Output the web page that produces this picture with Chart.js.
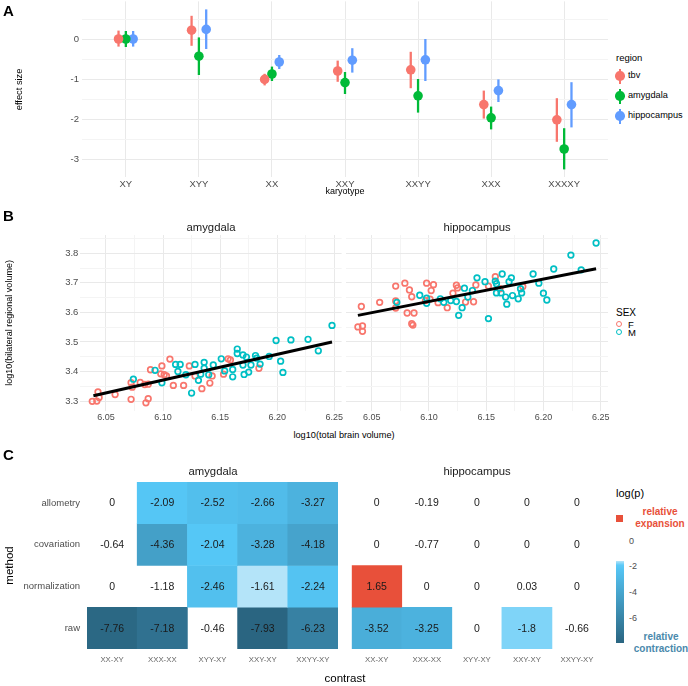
<!DOCTYPE html>
<html><head><meta charset="utf-8">
<script src="https://cdn.jsdelivr.net/npm/chart.js@4.4.1/dist/chart.umd.min.js"></script>
<style>
html,body{margin:0;padding:0;background:#fff;}
#root{position:relative;width:688px;height:686px;overflow:hidden;background:#fff;font-family:"Liberation Sans",Arial,sans-serif;}
.abs{position:absolute;white-space:nowrap;line-height:1;}
canvas{position:absolute;}
</style></head>
<body><div id="root"></div>
<script>
// ---------------- DATA ----------------
// Panel A
const karyotypes = ['XY','XYY','XX','XXY','XXYY','XXX','XXXXY'];
const regions = ['tbv','amygdala','hippocampus'];
const tbvEst   = [0, 0.22, -1.01, -0.80, -0.77, -1.64, -2.02];
const tbvLo    = [-0.19, -0.17, -1.16, -1.07, -1.23, -1.99, -2.57];
const tbvHi    = [0.21, 0.58, -0.87, -0.54, -0.32, -1.29, -1.48];
const amygEst  = [0, -0.43, -0.875, -1.09, -1.42, -1.97, -2.75];
const amygLo   = [-0.2, -0.9, -1.05, -1.375, -1.84, -2.26, -3.26];
const amygHi   = [0.2, 0.04, -0.69, -0.825, -1.0, -1.69, -2.23];
const hippoEst = [0, 0.24, -0.575, -0.53, -0.52, -1.29, -1.64];
const hippoLo  = [-0.19, -0.25, -0.75, -0.84, -1.05, -1.575, -2.21];
const hippoHi  = [0.2, 0.74, -0.4, -0.23, 0.0, -1.01, -1.08];
const effectTicks = [-3, -2.5, -2, -1.5, -1, -0.5, 0, 0.5];

// Panel B
const amygF = [[6.038,3.299],[6.042,3.300],[6.043,3.331],[6.044,3.312],[6.058,3.322],[6.072,3.306],[6.072,3.362],[6.073,3.347],[6.080,3.363],[6.085,3.294],[6.087,3.308],[6.087,3.357],[6.089,3.406],[6.084,3.356],[6.098,3.392],[6.099,3.419],[6.101,3.389],[6.103,3.385],[6.106,3.442],[6.109,3.353],[6.118,3.353],[6.123,3.419],[6.128,3.385],[6.134,3.342],[6.141,3.361],[6.143,3.385],[6.153,3.391],[6.157,3.443],[6.159,3.439],[6.184,3.411]];
const amygM = [[6.074,3.374],[6.093,3.404],[6.099,3.362],[6.111,3.424],[6.113,3.400],[6.115,3.424],[6.120,3.389],[6.125,3.327],[6.128,3.424],[6.133,3.391],[6.131,3.370],[6.136,3.431],[6.136,3.411],[6.140,3.389],[6.144,3.422],[6.151,3.443],[6.154,3.402],[6.161,3.407],[6.161,3.382],[6.165,3.476],[6.165,3.461],[6.170,3.422],[6.170,3.456],[6.171,3.390],[6.173,3.449],[6.175,3.398],[6.177,3.422],[6.181,3.454],[6.182,3.445],[6.185,3.425],[6.193,3.451],[6.199,3.505],[6.203,3.435],[6.205,3.397],[6.212,3.507],[6.227,3.509],[6.236,3.470],[6.248,3.556]];
const hippoF = [[6.038,3.551],[6.042,3.554],[6.042,3.536],[6.041,3.620],[6.057,3.634],[6.071,3.689],[6.071,3.639],[6.071,3.615],[6.079,3.699],[6.083,3.676],[6.085,3.653],[6.081,3.598],[6.087,3.598],[6.085,3.562],[6.086,3.557],[6.098,3.699],[6.102,3.674],[6.104,3.694],[6.097,3.640],[6.101,3.645],[6.108,3.633],[6.116,3.616],[6.121,3.665],[6.124,3.692],[6.125,3.683],[6.132,3.635],[6.139,3.636],[6.141,3.693],[6.152,3.689],[6.158,3.721],[6.162,3.680],[6.182,3.688]];
const hippoM = [[6.072,3.634],[6.092,3.658],[6.098,3.648],[6.098,3.631],[6.110,3.646],[6.113,3.634],[6.119,3.640],[6.124,3.637],[6.126,3.590],[6.129,3.616],[6.131,3.682],[6.134,3.652],[6.138,3.674],[6.142,3.717],[6.149,3.704],[6.152,3.579],[6.158,3.706],[6.159,3.697],[6.159,3.666],[6.163,3.666],[6.164,3.730],[6.167,3.652],[6.168,3.628],[6.170,3.704],[6.172,3.717],[6.173,3.657],[6.178,3.646],[6.180,3.680],[6.181,3.666],[6.191,3.730],[6.196,3.699],[6.200,3.665],[6.203,3.642],[6.209,3.747],[6.224,3.794],[6.233,3.744],[6.246,3.835]];
const amygFit  = [[6.039,3.318],[6.248,3.500]];
const hippoFit = [[6.038,3.590],[6.246,3.748]];
const tbvTicks = [6.05,6.075,6.10,6.125,6.15,6.175,6.20,6.225,6.25];
const volTicks = [3.3,3.35,3.4,3.45,3.5,3.55,3.6,3.65,3.7,3.75,3.8,3.85];

// Panel C
const contrasts = ['XX-XY','XXX-XX','XYY-XY','XXY-XY','XXYY-XY'];
const methods = ['allometry','covariation','normalization','raw'];
const amygAllometry     = [0, -2.09, -2.52, -2.66, -3.27];
const amygCovariation   = [-0.64, -4.36, -2.04, -3.28, -4.18];
const amygNormalization = [0, -1.18, -2.46, -1.61, -2.24];
const amygRaw           = [-7.76, -7.18, -0.46, -7.93, -6.23];
const hippoAllometry     = [0, -0.19, 0, 0, 0];
const hippoCovariation   = [0, -0.77, 0, 0, 0];
const hippoNormalization = [1.65, 0, 0, 0.03, 0];
const hippoRaw           = [-3.52, -3.25, 0, -1.8, -0.66];
const legendTicks = [-2, -4, -6];

// ---------------- STYLE ----------------
const FONT = '"Liberation Sans", Arial, sans-serif';
Chart.defaults.font.family = FONT;
const regionColors = ['#F8766D','#00BA38','#619CFF'];
const sexColors = ['#F8766D','#00BFC4'];
const GRID_MAJOR = '#e9e9e9', GRID_MINOR = '#f4f4f4';
const root = document.getElementById('root');

function txt(text, x, y, css, tr){
  const d = document.createElement('div');
  d.className = 'abs'; d.textContent = text;
  d.style.left = x + 'px'; d.style.top = y + 'px';
  Object.assign(d.style, css || {});
  d.style.transform = tr || 'translate(-50%,-50%)';
  root.appendChild(d); return d;
}
function box(x, y, w, h, css){
  const d = document.createElement('div');
  d.style.position = 'absolute';
  d.style.left = x + 'px'; d.style.top = y + 'px';
  d.style.width = w + 'px'; d.style.height = h + 'px';
  Object.assign(d.style, css || {});
  root.appendChild(d); return d;
}
function canvasAt(x, y, w, h){
  const c = document.createElement('canvas');
  c.width = w; c.height = h;
  c.style.left = x + 'px'; c.style.top = y + 'px';
  c.style.width = w + 'px'; c.style.height = h + 'px';
  root.appendChild(c); return c;
}
function fixSize(prop, val){
  return s => { s[prop] = val; s.paddingTop = 0; s.paddingBottom = 0; s.paddingLeft = 0; s.paddingRight = 0; };
}
const baseOpts = {responsive:false, animation:false, events:[], devicePixelRatio:1,
  plugins:{legend:{display:false}, tooltip:{enabled:false}}};
function pad(top, right, left){ return {autoPadding:false, padding:{top:top, right:right, left:left, bottom:0}}; }
function isMult(v, step){ return Math.abs(v/step - Math.round(v/step)) < 1e-6; }

// ---------------- PANEL A ----------------
const errorBars = {
  id:'errorBars',
  beforeDatasetsDraw(chart){
    const ctx = chart.ctx, ys = chart.scales.y;
    chart.data.datasets.forEach((ds, di) => {
      const meta = chart.getDatasetMeta(di);
      ctx.save(); ctx.strokeStyle = ds.borderColor; ctx.lineWidth = 2.3; ctx.lineCap = 'butt';
      meta.data.forEach((pt, i) => {
        ctx.beginPath();
        ctx.moveTo(pt.x, ys.getPixelForValue(ds.lo[i]));
        ctx.lineTo(pt.x, ys.getPixelForValue(ds.hi[i]));
        ctx.stroke();
      });
      ctx.restore();
    });
  }
};
const estA = [tbvEst, amygEst, hippoEst], loA = [tbvLo, amygLo, hippoLo], hiA = [tbvHi, amygHi, hippoHi];
const dodge = [-0.1, 0, 0.1];
new Chart(canvasAt(0, 0, 610, 200), {
  type:'scatter',
  data:{datasets: regions.map((r, k) => ({
    label:r,
    data: karyotypes.map((_, i) => ({x: i + dodge[k], y: estA[k][i]})),
    lo: loA[k], hi: hiA[k],
    backgroundColor: regionColors[k], borderColor: regionColors[k],
    pointRadius:4.8, borderWidth:0
  }))},
  options: Object.assign({}, baseOpts, {
    layout: pad(1.4, 2, 0),
    scales:{
      x:{type:'linear', min:-0.6, max:6.6,
        afterBuildTicks: s => { s.ticks = karyotypes.map((_, i) => ({value:i})); },
        afterFit: fixSize('height', 22.6),
        ticks:{callback: v => karyotypes[v], font:{size:9.5}, color:'#4d4d4d', padding:1, maxRotation:0, autoSkip:false},
        grid:{color:GRID_MAJOR, drawTicks:false}, border:{display:false},
        title:{display:true, text:'karyotype', font:{size:9}, color:'#000', padding:{top:0, bottom:3}}},
      y:{min:-3.46, max:0.94,
        afterBuildTicks: s => { s.ticks = effectTicks.map(v => ({value:v})); },
        afterFit: fixSize('width', 82),
        ticks:{callback: v => isMult(v,1) ? String(v) : '', font:{size:9.5}, color:'#4d4d4d', padding:3, autoSkip:false},
        grid:{color: c => (c.tick && isMult(c.tick.value,1)) ? GRID_MAJOR : GRID_MINOR, drawTicks:false}, border:{display:false},
        title:{display:true, text:'effect size', font:{size:9.3}, color:'#000', padding:{top:14, bottom:0}}}
    }
  }),
  plugins:[errorBars]
});
// legend A
txt('region', 616, 58, {fontSize:'9.5px', color:'#000'}, 'translate(0,-50%)');
regions.forEach((r, k) => {
  const y = 76 + k*20;
  box(619, y-7.5, 2.3, 15, {background:regionColors[k]});
  box(615.4, y-4.7, 9.4, 9.4, {background:regionColors[k], borderRadius:'50%'});
  txt(r, 628, y, {fontSize:'9.2px', color:'#000'}, 'translate(0,-50%)');
});

// ---------------- PANEL B ----------------
function toPts(arr){ return arr.map(p => ({x:p[0], y:p[1]})); }
function makeScatter(cv, F, M, fit, showY){
  return new Chart(cv, {
    type:'scatter',
    data:{datasets:[
      {label:'fit', data: toPts(fit), showLine:true, borderColor:'#000', borderWidth:3, pointRadius:0, order:0},
      {label:'F', data: toPts(F), borderColor:sexColors[0], backgroundColor:'rgba(0,0,0,0)', pointRadius:2.8, borderWidth:1.7, order:2},
      {label:'M', data: toPts(M), borderColor:sexColors[1], backgroundColor:'rgba(0,0,0,0)', pointRadius:2.8, borderWidth:1.7, order:1}
    ]},
    options: Object.assign({}, baseOpts, {
      layout: pad(10, showY ? 2.4 : 2, 0),
      scales:{
        x:{type:'linear', min:6.0276, max:6.2564,
          afterBuildTicks: s => { s.ticks = tbvTicks.map(v => ({value:v})); },
          afterFit: fixSize('height', 14.2),
          ticks:{callback: v => isMult(v,0.05) ? v.toFixed(2) : '', font:{size:9}, color:'#4d4d4d', padding:1, maxRotation:0, autoSkip:false},
          grid:{color: c => (c.tick && isMult(c.tick.value,0.05)) ? GRID_MAJOR : GRID_MINOR, drawTicks:false}, border:{display:false}},
        y:{min:3.267, max:3.862,
          afterBuildTicks: s => { s.ticks = volTicks.map(v => ({value:v})); },
          afterFit: fixSize('width', showY ? 80.4 : 2),
          ticks:{display:showY, callback: v => isMult(v,0.1) ? v.toFixed(1) : '', font:{size:9.5}, color:'#4d4d4d', padding:2, autoSkip:false},
          grid:{color: c => (c.tick && isMult(c.tick.value,0.1)) ? GRID_MAJOR : GRID_MINOR, drawTicks:false}, border:{display:false},
          title:{display:showY, text:'log10(bilateral regional volume)', font:{size:9}, color:'#000', padding:{top:4, bottom:0}}}
      }
    })
  });
}
makeScatter(canvasAt(0, 225, 344, 200), amygF, amygM, amygFit, true);
makeScatter(canvasAt(344, 225, 266, 200), hippoF, hippoM, hippoFit, false);
txt('amygdala', 211, 228, {fontSize:'11.3px', color:'#1a1a1a'});
txt('hippocampus', 477, 228, {fontSize:'11.3px', color:'#1a1a1a'});
txt('log10(total brain volume)', 344, 436, {fontSize:'9.2px', color:'#000'});
// legend B
txt('SEX', 616, 313, {fontSize:'10px', color:'#000'}, 'translate(0,-50%)');
['F','M'].forEach((s, k) => {
  const y = 325 + k*8;
  box(616.2, y-3.8, 4.2, 4.2, {border:'1.7px solid '+sexColors[k], borderRadius:'50%'});
  txt(s, 628, y, {fontSize:'9.5px', color:'#000'}, 'translate(0,-50%)');
});

// ---------------- PANEL C ----------------
const colorStops = [[-1.61,[180,228,249]],[-1.95,[86,200,248]],[-7.93,[42,101,129]]];
function heatColor(v){
  if (v >= 1.3) return '#E8503A';
  if (v > -1.3) return 'rgba(255,255,255,0)';
  let a = colorStops[0], b = colorStops[1];
  if (v > a[0]) return 'rgb(' + a[1].join(',') + ')';
  if (v <= colorStops[2][0]) return 'rgb(' + colorStops[2][1].join(',') + ')';
  if (v < b[0]) { a = colorStops[1]; b = colorStops[2]; }
  const t = (v - a[0]) / (b[0] - a[0]);
  const c = a[1].map((x, i) => Math.round(x + t*(b[1][i]-x)));
  return 'rgb(' + c.join(',') + ')';
}
const cellText = {
  id:'cellText',
  afterDatasetsDraw(chart){
    const ctx = chart.ctx;
    ctx.save(); ctx.font = '10.5px ' + FONT; ctx.fillStyle = '#1a1a1a';
    ctx.textAlign = 'center'; ctx.textBaseline = 'middle';
    chart.data.datasets.forEach((ds, di) => {
      chart.getDatasetMeta(di).data.forEach((bar, i) => {
        ctx.fillText(String(ds.values[i]), bar.x, (bar.y + bar.base) / 2 + 0.5);
      });
    });
    ctx.restore();
  }
};
function makeHeat(cv, rows, showY){
  return new Chart(cv, {
    type:'bar',
    data:{labels: contrasts, datasets: methods.map((m, k) => {
      const level = methods.length - k;
      return {label:m, values: rows[k],
        data: contrasts.map(() => [level - 0.5, level + 0.5]),
        backgroundColor: rows[k].map(heatColor), borderWidth:0,
        barPercentage:1, categoryPercentage:1, grouped:false};
    })},
    options: Object.assign({}, baseOpts, {
      layout: pad(6, 2, 0),
      scales:{
        x:{afterFit: fixSize('height', 27),
          ticks:{font:{size:7.8}, color:'#666', padding:6, maxRotation:0, autoSkip:false},
          grid:{display:false, drawTicks:false}, border:{display:false}},
        y:{type:'linear', min:0.5, max:4.5,
          afterBuildTicks: s => { s.ticks = methods.map((_, k) => ({value: methods.length - k})); },
          afterFit: fixSize('width', showY ? 87 : 7.7),
          ticks:{display:showY, callback: v => methods[methods.length - v], font:{size:9.5}, color:'#4d4d4d', padding:7, autoSkip:false},
          grid:{display:false, drawTicks:false}, border:{display:false},
          title:{display:showY, text:'method', font:{size:11.5}, color:'#000', padding:{top:3, bottom:0}}}
      }
    }),
    plugins:[cellText]
  });
}
makeHeat(canvasAt(0, 476, 340, 200), [amygAllometry, amygCovariation, amygNormalization, amygRaw], true);
makeHeat(canvasAt(344, 476, 260, 200), [hippoAllometry, hippoCovariation, hippoNormalization, hippoRaw], false);
txt('amygdala', 213, 472, {fontSize:'11.3px', color:'#1a1a1a'});
txt('hippocampus', 477, 472, {fontSize:'11.3px', color:'#1a1a1a'});
txt('contrast', 345, 679, {fontSize:'11.5px', color:'#000'});
// legend C
txt('log(p)', 616, 493, {fontSize:'11px', color:'#000'}, 'translate(0,-50%)');
box(615.5, 515, 7.5, 6.5, {background:heatColor(1.65)});
txt('relative', 660, 512, {fontSize:'10px', fontWeight:'bold', color:'#E8503A'});
txt('expansion', 660, 524, {fontSize:'10px', fontWeight:'bold', color:'#E8503A'});
txt('0', 629, 541, {fontSize:'9px', color:'#4d4d4d'}, 'translate(0,-50%)');
const barTop = 561, barBot = 643, vTop = -1.61, vBot = -7.93;
const stops = [];
for (let i = 0; i <= 20; i++) { const v = vTop + (vBot - vTop) * i / 20; stops.push(heatColor(v) + ' ' + (i*5) + '%'); }
box(616, barTop, 7.5, barBot - barTop, {background:'linear-gradient(to bottom,' + stops.join(',') + ')'});
legendTicks.forEach(v => {
  const y = barTop + (v - vTop) / (vBot - vTop) * (barBot - barTop);
  txt(String(v), 629, y, {fontSize:'9px', color:'#4d4d4d'}, 'translate(0,-50%)');
});
txt('relative', 661, 637, {fontSize:'10px', fontWeight:'bold', color:'#4A89AC'});
txt('contraction', 661, 649, {fontSize:'10px', fontWeight:'bold', color:'#4A89AC'});

// panel letters
txt('A', 3, 10, {fontSize:'15px', fontWeight:'bold', color:'#000'}, 'translate(0,-50%)');
txt('B', 3, 215, {fontSize:'15px', fontWeight:'bold', color:'#000'}, 'translate(0,-50%)');
txt('C', 3, 454, {fontSize:'15px', fontWeight:'bold', color:'#000'}, 'translate(0,-50%)');
</script>
</body></html>
